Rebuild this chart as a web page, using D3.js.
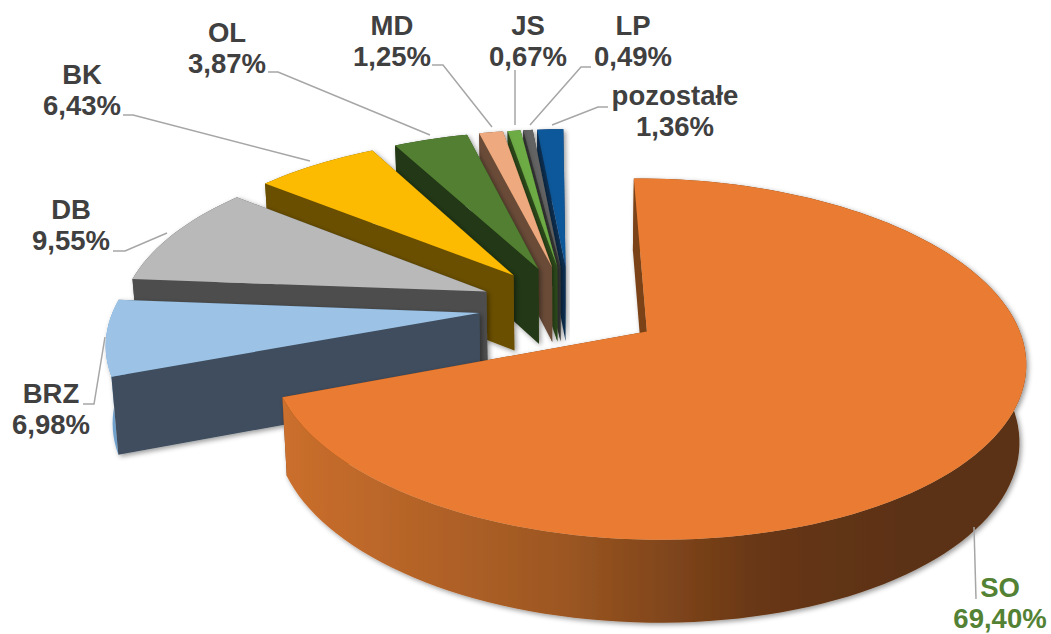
<!DOCTYPE html>
<html>
<head>
<meta charset="utf-8">
<script src="https://d3js.org/d3.v7.min.js"></script>
<style>
    html, body { margin: 0; padding: 0; background: #fff; }
    text { font-family: "Liberation Sans", Arial, sans-serif; font-weight: 700; font-size: 27.5px; text-anchor: middle; }
</style>
</head>
<body>
<div id="chart"></div>
<script>
// data
const categories = ["SO", "BRZ", "DB", "BK", "OL", "MD", "JS", "LP", "pozostałe"];
const shares = [69.40, 6.98, 9.55, 6.43, 3.87, 1.25, 0.67, 0.49, 1.36];

// styles
const topColors = ["#e97b30", "#9cc3e6", "#b9b9b9", "#fcbb00", "#527f33", "#eeaa7e", "#6dab45", "#636363", "#11589a"];
const faceColors = ["#7a4218", "#3f4e5e", "#4d4d4d", "#6a4f00", "#223813", "#6b4c37", "#2f4d1d", "#3a3a3a", "#0b3157"];
const rimColors = ["url(#soRim)", "#6fa0cc", "#4d4d4d", "#6a4f00", "#223813", "#6b4c37", "#2f4d1d", "#3a3a3a", "#0b3157"];
const labelColors = ["#548235", "#404040", "#404040", "#404040", "#404040", "#404040", "#404040", "#404040", "#404040"];

// label anchors and leader lines, same order as categories
const labelPos = [[1000, 597], [51, 403], [71, 219], [82, 84], [227, 42], [392, 35], [528, 35], [633, 35], [675, 105]];
const leaders = [
    [[976, 599], [974, 527]],
    [[83, 404], [94, 404], [105, 337]],
    [[113, 251], [125, 251], [167, 233]],
    [[123, 115], [133, 115], [310, 161]],
    [[268, 72], [278, 72], [430, 135]],
    [[432, 65], [443, 65], [492, 127]],
    [[515, 70], [515, 125]],
    [[591, 67], [581, 67], [530, 125]],
    [[608, 107], [598, 107], [552, 125]]
];

const width = 1051, height = 634;

// projection settings for the tilted pie
const cx = 570, cy = 307;
const rx = 365, ry = 169;
const persp = 0.15;       // how much nearer the front edge is
const explode = 0.25;     // slice pull out, in radii
const depth = 76;         // height of the extrusion on screen
const shrinkX = 0.985, shrinkY = 1.03;
const deg = Math.PI / 180;

const svg = d3.select("#chart").append("svg")
    .attr("width", width)
    .attr("height", height);

const defs = svg.append("defs");

let grad = defs.append("linearGradient")
    .attr("id", "soRim")
    .attr("gradientUnits", "userSpaceOnUse")
    .attr("x1", 282).attr("x2", 900).attr("y1", 0).attr("y2", 0);
grad.append("stop").attr("offset", 0).attr("stop-color", "#cb6f2d");
grad.append("stop").attr("offset", 0.45).attr("stop-color", "#9d5722");
grad.append("stop").attr("offset", 0.77).attr("stop-color", "#683715");
grad.append("stop").attr("offset", 1).attr("stop-color", "#5c3213");

let shadow = defs.append("filter")
    .attr("id", "shadow")
    .attr("x", "-10%").attr("y", "-10%").attr("width", "125%").attr("height", "125%");
shadow.append("feDropShadow")
    .attr("dx", 2).attr("dy", 2).attr("stdDeviation", 2.5)
    .attr("flood-color", "#000").attr("flood-opacity", 0.4);

const pie = d3.pie()
    .sort(null)
    .startAngle(-0.5 * deg)
    .endAngle(359.5 * deg);

const arcs = pie(shares);

// unit plane point -> screen, level 0 is the top face and 1 the bottom one
const scaleX = d3.scaleLinear().domain([-1, 1]).range([-rx, rx]);
const scaleY = d3.scaleLinear().domain([-1, 1]).range([ry, -ry]);

function project(X, Z, level) {
    let s = 1 / (1 + persp * Z);
    let px = scaleX(X) * s;
    let py = scaleY(Z) * s;
    if (level) {
        px *= shrinkX;
        py = py * shrinkY + depth;
    }
    return [cx + px, cy + py];
}

const line = d3.line();

function slicePoints(d) {
    let mid = (d.startAngle + d.endAngle) / 2;
    let ox = explode * Math.sin(mid), oz = explode * Math.cos(mid);
    let steps = Math.max(4, Math.ceil((d.endAngle - d.startAngle) / (2 * deg)));
    let angles = d3.range(steps + 1).map(i => d.startAngle + (d.endAngle - d.startAngle) * i / steps);
    let edge = level => angles.map(a => project(ox + Math.sin(a), oz + Math.cos(a), level));
    return {
        apexTop: project(ox, oz, 0),
        apexBottom: project(ox, oz, 1),
        top: edge(0),
        bottom: edge(1)
    };
}

// drawn from the back slice round to the front, SO goes last
const order = [8, 7, 6, 5, 4, 3, 2, 1, 0];

order.forEach(i => {
    let p = slicePoints(arcs[i]);
    let n = p.top.length - 1;
    let g = svg.append("g").attr("filter", "url(#shadow)");

    // end cut
    g.append("path")
        .attr("d", line([p.apexTop, p.top[n], p.bottom[n], p.apexBottom]) + "Z")
        .attr("fill", faceColors[i]);
    // outer wall
    g.append("path")
        .attr("d", line(p.top.concat(p.bottom.slice().reverse())) + "Z")
        .attr("fill", rimColors[i]);
    // start cut
    g.append("path")
        .attr("d", line([p.apexTop, p.top[0], p.bottom[0], p.apexBottom]) + "Z")
        .attr("fill", faceColors[i]);
    // top face
    g.append("path")
        .attr("d", line([p.apexTop].concat(p.top)) + "Z")
        .attr("fill", topColors[i]);
});

// leader lines
svg.selectAll(".leader")
    .data(leaders)
    .enter().append("path")
    .attr("class", "leader")
    .attr("d", d => line(d))
    .attr("fill", "none")
    .attr("stroke", "#a6a6a6")
    .attr("stroke-width", 1.5);

// labels, two lines with a decimal comma
const format = d3.format(".2f");
categories.forEach((name, i) => {
    let t = svg.append("text")
        .attr("fill", labelColors[i]);
    t.append("tspan")
        .attr("x", labelPos[i][0])
        .attr("y", labelPos[i][1])
        .text(name);
    t.append("tspan")
        .attr("x", labelPos[i][0])
        .attr("y", labelPos[i][1] + 31)
        .text(format(shares[i]).replace(".", ",") + "%");
});
</script>
</body>
</html>
